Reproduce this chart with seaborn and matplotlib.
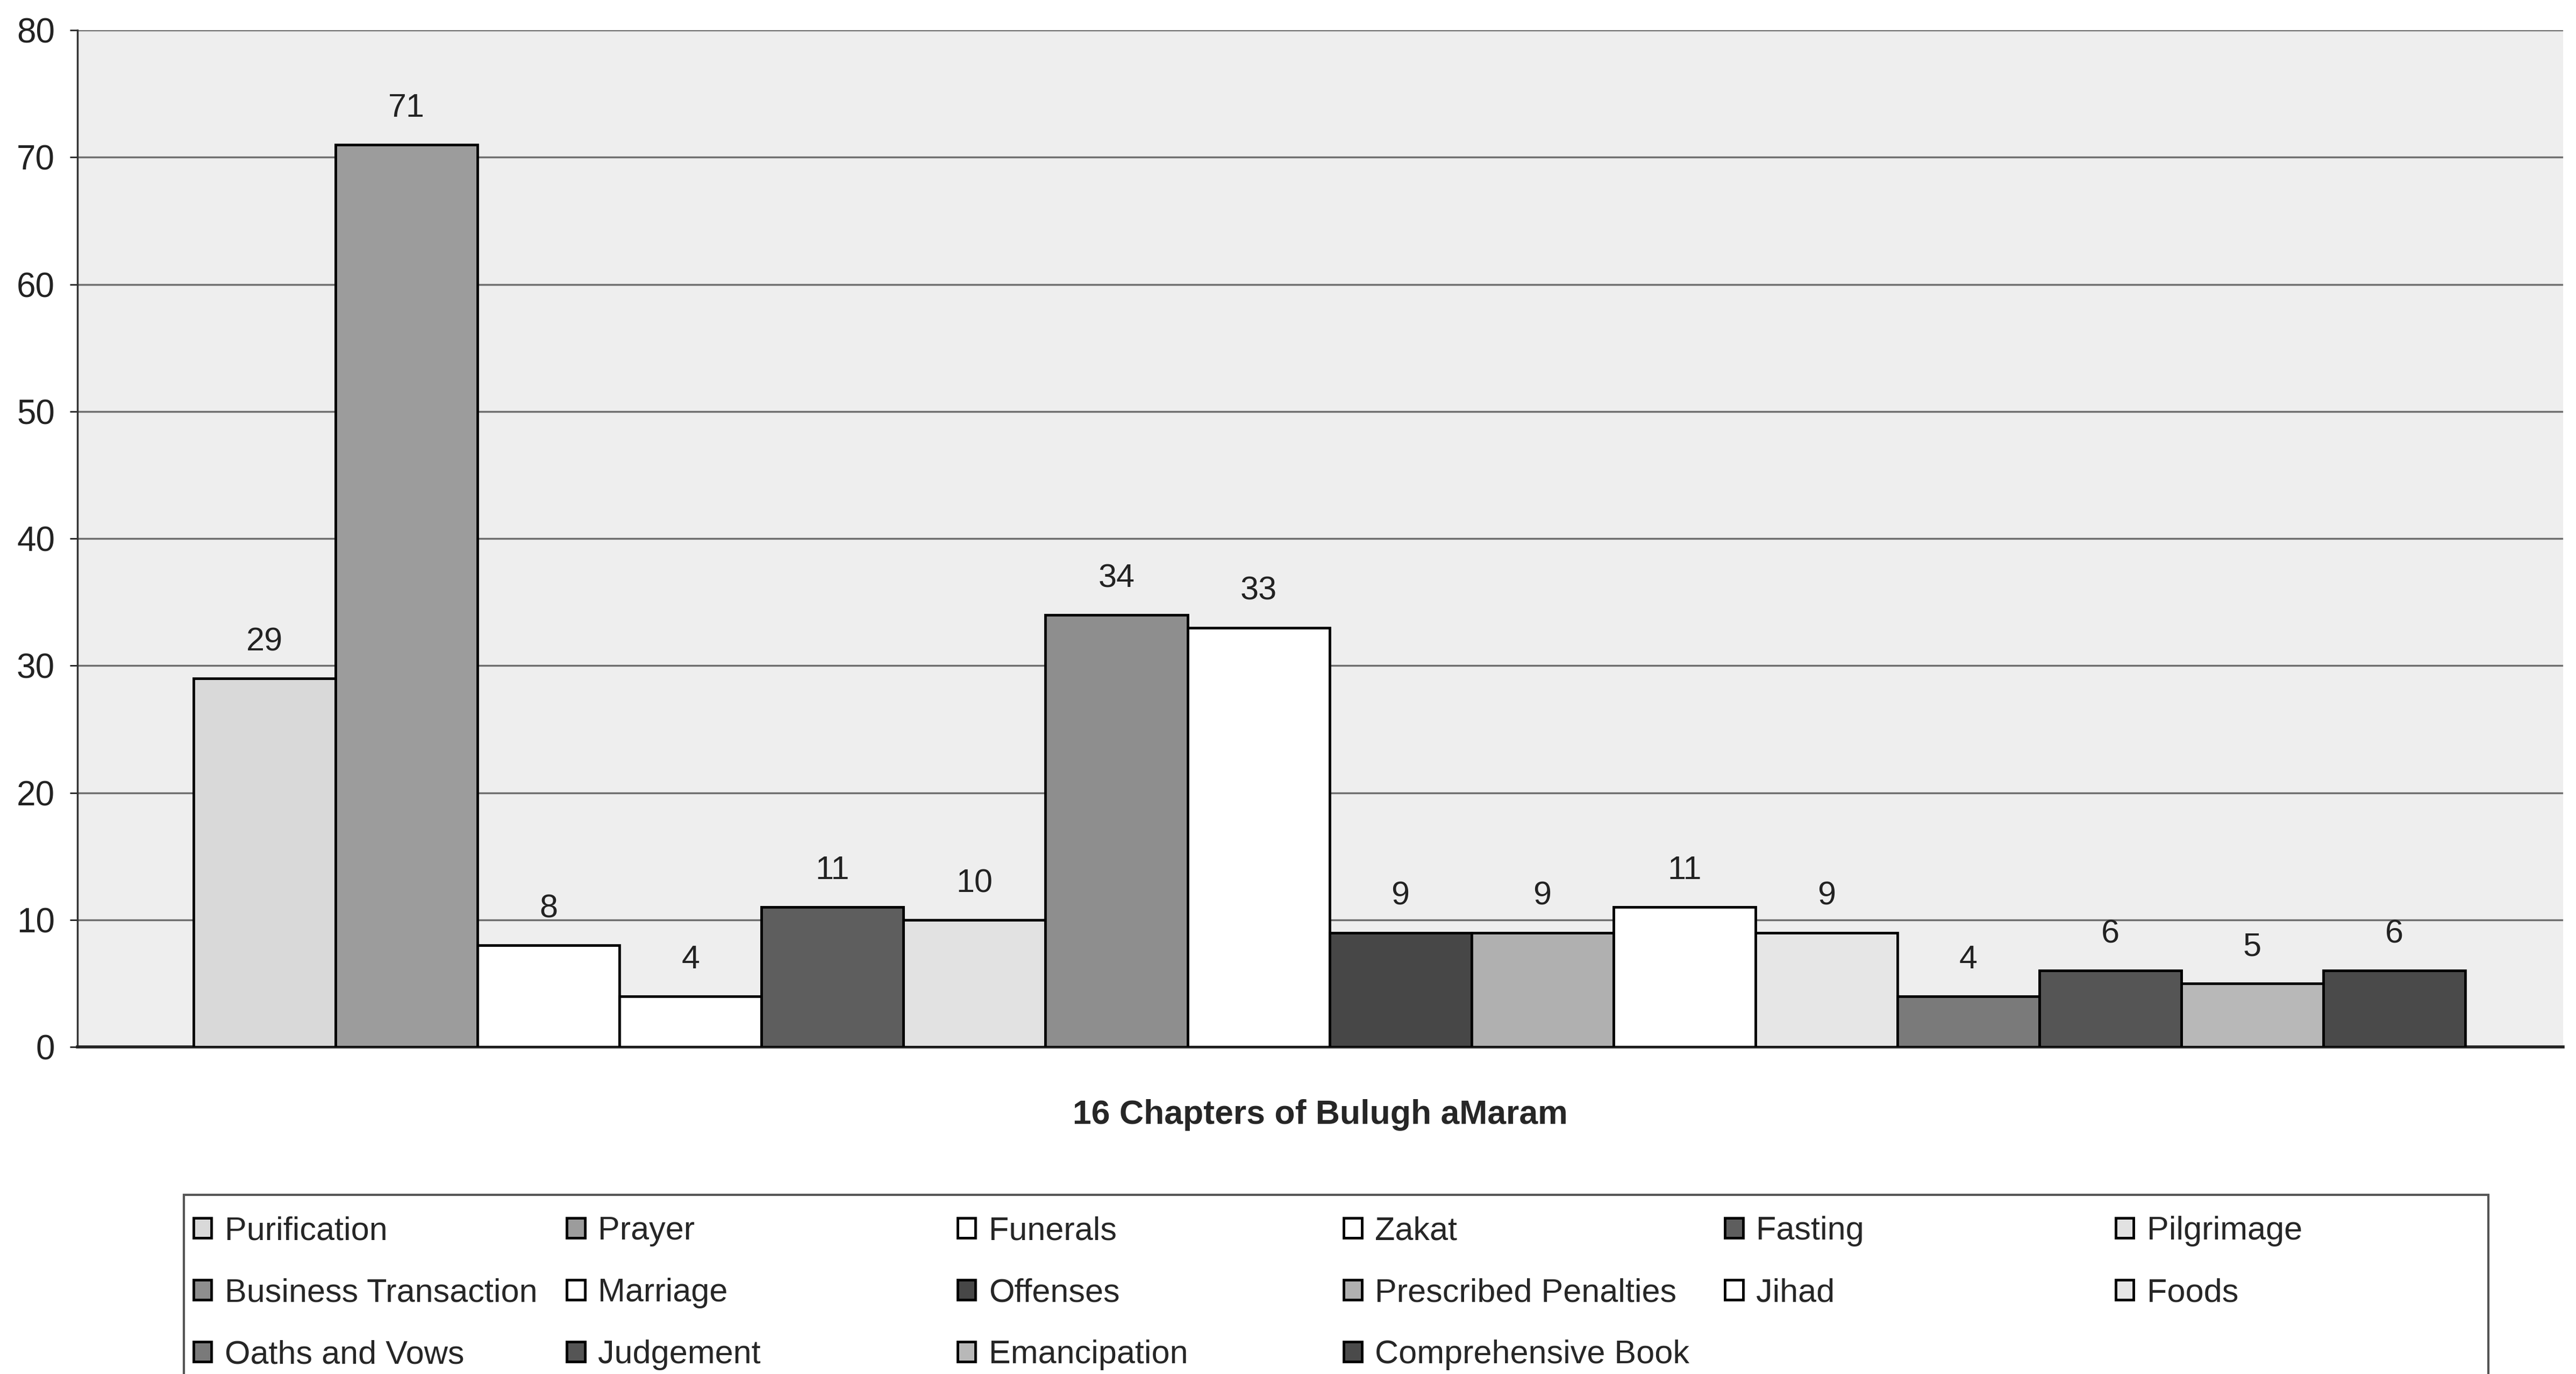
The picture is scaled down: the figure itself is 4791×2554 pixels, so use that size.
import matplotlib
matplotlib.use('Agg')
import matplotlib.pyplot as plt
import seaborn as sns
import pandas as pd
from matplotlib.patches import Patch, Rectangle

# chapter names, in series order
CHAPTERS = ['Purification', 'Prayer', 'Funerals', 'Zakat', 'Fasting', 'Pilgrimage',
            'Business Transaction', 'Marriage', 'Offenses', 'Prescribed Penalties',
            'Jihad', 'Foods', 'Oaths and Vows', 'Judgement', 'Emancipation',
            'Comprehensive Book']
# number of hadith per chapter
COUNTS = [29, 71, 8, 4, 11, 10, 34, 33, 9, 9, 11, 9, 4, 6, 5, 6]
# grey shades for the (printed) patterns
SHADES = ['#d9d9d9', '#9c9c9c', '#ffffff', '#ffffff', '#5e5e5e', '#e2e2e2',
          '#8e8e8e', '#ffffff', '#474747', '#b0b0b0', '#ffffff', '#e6e6e6',
          '#7a7a7a', '#555555', '#b8b8b8', '#4a4a4a']
Y_TICKS = [0, 10, 20, 30, 40, 50, 60, 70, 80]

sns.set_style('white')
plt.rcParams['font.family'] = ['Liberation Sans', 'DejaVu Sans']

df = pd.DataFrame({'chapter': CHAPTERS, 'count': COUNTS})
palette = dict(zip(CHAPTERS, SHADES))

fig = plt.figure(figsize=(47.91, 25.54), dpi=100)
ax = fig.add_axes([0.030, 0.238, 0.965, 0.740])
ax.set_facecolor('#eeeeee')

sns.barplot(data=df, x='chapter', y='count', hue='chapter', order=CHAPTERS,
            palette=palette, dodge=False, width=1.0, legend=False,
            edgecolor='black', linewidth=3.5, ax=ax, zorder=3)

for cont in ax.containers:
    ax.bar_label(cont, fmt='%d', padding=28, fontsize=44, color='#222222')

ax.set_ylim(0, 80)
ax.set_xlim(-1.32, 16.19)
ax.set_yticks(Y_TICKS)
ax.set_xticks([])
ax.yaxis.grid(True, color='#6e6e6e', linewidth=2.5, zorder=0)
ax.set_axisbelow(True)
ax.tick_params(axis='y', labelsize=46, length=10, width=2, pad=20,
               left=True, colors='#222222')
ax.set_ylabel('')
ax.set_xlabel('16 Chapters of Bulugh aMaram', fontsize=45, fontweight='bold',
              labelpad=70)
for s in ['top', 'right']:
    ax.spines[s].set_visible(False)
ax.spines['left'].set_linewidth(2.5)
ax.spines['left'].set_color('#333333')
ax.spines['bottom'].set_linewidth(4)
ax.spines['bottom'].set_color('#222222')

# legend: 6 equal columns, filled row by row
col_x = [0.0751, 0.2200, 0.3717, 0.5216, 0.6696, 0.8213]
for c in range(6):
    names = CHAPTERS[c::6]
    handles = [Patch(facecolor=palette[n], edgecolor='black', linewidth=3.5) for n in names]
    fig.legend(handles, names, loc='upper left', bbox_to_anchor=(col_x[c], 0.1150),
               frameon=False, fontsize=44, borderpad=0, borderaxespad=0,
               handlelength=0.55, handleheight=0.55, handletextpad=0.4,
               labelspacing=0.95)

fig.add_artist(Rectangle((0.0714, -0.02), 0.8946, 0.1504, transform=fig.transFigure,
                         fill=False, edgecolor='#555555', linewidth=3))

fig.savefig('out.png', dpi=100)
